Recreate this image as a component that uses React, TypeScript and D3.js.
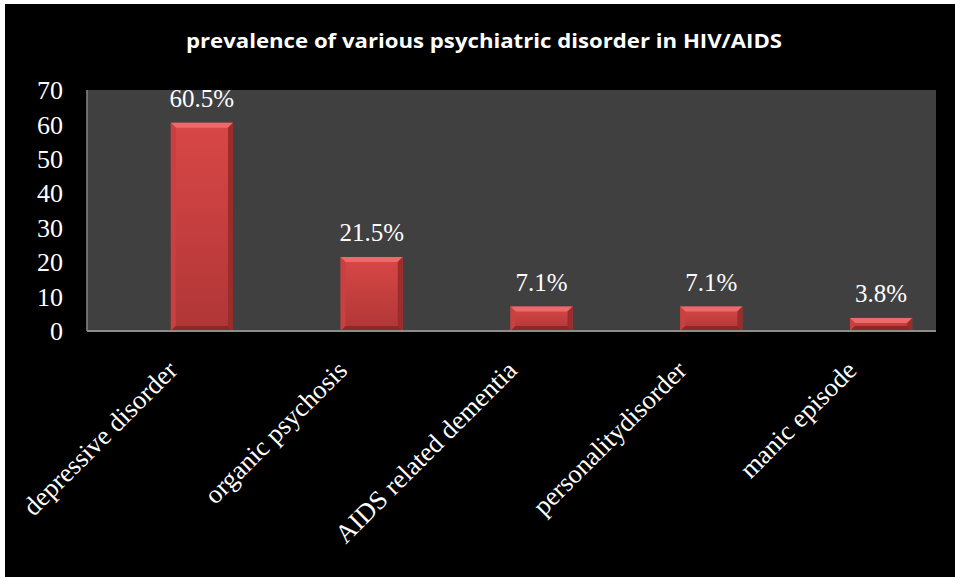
import React from "react";
import * as d3 from "d3";

const title = "prevalence of various psychiatric disorder in HIV/AIDS";
const categories = [
  "depressive disorder",
  "organic psychosis",
  "AIDS related dementia",
  "personalitydisorder",
  "manic episode",
];
const values = [60.5, 21.5, 7.1, 7.1, 3.8];
const valueLabels = ["60.5%", "21.5%", "7.1%", "7.1%", "3.8%"];
const yTicks = [0, 10, 20, 30, 40, 50, 60, 70];

const W = 955;
const H = 578;
const plot = { left: 87, right: 936, top: 90, bottom: 331 };

export default function App() {
  const y = d3.scaleLinear().domain([0, 70]).range([plot.bottom, plot.top]);
  const x = d3
    .scaleBand<string>()
    .domain(categories)
    .range([117, 966])
    .paddingInner(0.634)
    .paddingOuter(0.317);
  const bw = x.bandwidth();
  const bev = 5;
  const serif = "'Liberation Serif', 'Times New Roman', serif";

  return (
    <svg
      width={W}
      height={H}
      style={{ position: "absolute", left: 0, top: 0, display: "block" }}
    >
      <defs>
        <linearGradient id="barFill" x1="0" y1="0" x2="0" y2="1">
          <stop offset="0" stopColor="#d94747" />
          <stop offset="1" stopColor="#b03636" />
        </linearGradient>
      </defs>
      <rect x={0} y={0} width={W} height={H} fill="#ffffff" />
      <rect x={5} y={4} width={W - 5} height={H - 5} fill="#000000" />
      <text
        x={484}
        y={48}
        textAnchor="middle"
        fill="#ffffff"
        fontFamily="'Open Sans', Lato, sans-serif"
        fontWeight="bold"
        fontSize={20}
        textLength={596}
        lengthAdjust="spacingAndGlyphs"
      >
        {title}
      </text>
      <rect
        x={plot.left}
        y={plot.top}
        width={plot.right - plot.left}
        height={plot.bottom - plot.top}
        fill="#404040"
      />
      {categories.map((c, i) => {
        const x0 = x(c)!;
        const x1 = x0 + bw;
        const y0 = y(values[i]);
        const y1 = plot.bottom;
        return (
          <g key={c}>
            <rect x={x0} y={y0} width={bw} height={y1 - y0} fill="url(#barFill)" />
            <polygon
              points={`${x0},${y0} ${x1},${y0} ${x1 - bev},${y0 + bev} ${x0 + bev},${y0 + bev}`}
              fill="#ec6a6a"
            />
            <polygon
              points={`${x0},${y0} ${x0 + bev},${y0 + bev} ${x0 + bev},${y1 - bev} ${x0},${y1}`}
              fill="#c84040"
            />
            <polygon
              points={`${x1},${y0} ${x1 - bev},${y0 + bev} ${x1 - bev},${y1 - bev} ${x1},${y1}`}
              fill="#9a2c2c"
            />
            <polygon
              points={`${x0},${y1} ${x0 + bev},${y1 - bev} ${x1 - bev},${y1 - bev} ${x1},${y1}`}
              fill="#8e2828"
            />
            <text
              x={x0 + bw / 2}
              y={y0 - 16}
              textAnchor="middle"
              fill="#ffffff"
              fontFamily={serif}
              fontSize={25}
            >
              {valueLabels[i]}
            </text>
            <text
              transform={`translate(${x0 + bw / 2 - 23},${372}) rotate(-45)`}
              textAnchor="end"
              fill="#ffffff"
              fontFamily={serif}
              fontSize={26.5}
            >
              {c}
            </text>
          </g>
        );
      })}
      <line
        x1={plot.left}
        x2={plot.left}
        y1={plot.top}
        y2={plot.bottom}
        stroke="#868686"
        strokeWidth={1.5}
      />
      <line
        x1={plot.left}
        x2={plot.right}
        y1={plot.bottom}
        y2={plot.bottom}
        stroke="#8c8c8c"
        strokeWidth={2}
      />
      {yTicks.map((t) => (
        <text
          key={t}
          x={63}
          y={y(t)}
          dy="0.35em"
          textAnchor="end"
          fill="#ffffff"
          fontFamily={serif}
          fontSize={26}
        >
          {t}
        </text>
      ))}
    </svg>
  );
}
